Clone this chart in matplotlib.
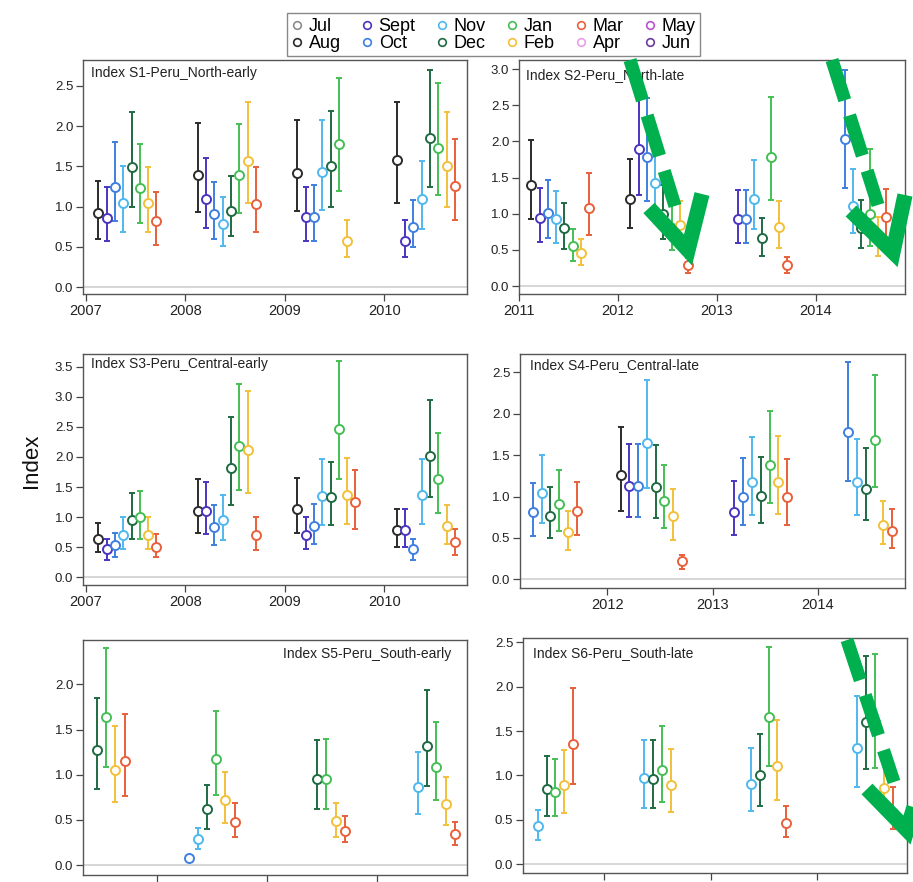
import numpy as np
import matplotlib
matplotlib.use("Agg")
import matplotlib.pyplot as plt
from matplotlib.lines import Line2D

plt.rcParams['font.family'] = ['Liberation Sans', 'DejaVu Sans']

# Month order of the legend (season runs Jul -> Jun) and colours.
MONTHS = ["Jul", "Aug", "Sept", "Oct", "Nov", "Dec", "Jan", "Feb", "Mar", "Apr", "May", "Jun"]
MONTH_COLORS = ["#8c8c8c", "#2b2b2b", "#4a35c0", "#3f7fe0", "#4fb8ee", "#1f6a42",
                "#45bf55", "#f2c03a", "#e8603c", "#e7a0e6", "#b94fd0", "#6b3a9e"]

# Only Aug..Mar carry estimates; rows = season start year, columns = Aug..Mar.
DATA_MONTHS = MONTHS[1:9]

# --- S1 Peru North early ---
S1_YEARS = [2007, 2008, 2009, 2010]
S1_MEAN = [[0.92, 0.86, 1.24, 1.04, 1.49, 1.23, 1.04, 0.82],
           [1.39, 1.10, 0.91, 0.79, 0.95, 1.39, 1.57, 1.03],
           [1.42, 0.87, 0.87, 1.43, 1.50, 1.78, 0.58, None],
           [1.58, 0.58, 0.75, 1.09, 1.85, 1.73, 1.50, 1.26]]
S1_LO = [[0.60, 0.57, 0.82, 0.69, 0.99, 0.80, 0.69, 0.53],
         [0.94, 0.73, 0.60, 0.51, 0.63, 0.92, 1.04, 0.68],
         [0.95, 0.57, 0.575, 0.96, 0.99, 1.19, 0.38, None],
         [1.05, 0.38, 0.50, 0.72, 1.24, 1.15, 0.99, 0.84]]
S1_HI = [[1.32, 1.24, 1.80, 1.51, 2.17, 1.78, 1.49, 1.18],
         [2.04, 1.60, 1.31, 1.12, 1.38, 2.03, 2.30, 1.49],
         [2.07, 1.25, 1.27, 2.07, 2.19, 2.60, 0.83, None],
         [2.30, 0.83, 1.08, 1.57, 2.70, 2.54, 2.18, 1.84]]

# --- S2 Peru North late ---
S2_YEARS = [2011, 2012, 2013, 2014]
S2_MEAN = [[1.40, 0.945, 1.01, 0.92, 0.80, 0.55, 0.45, 1.08],
           [1.21, 1.89, 1.79, 1.43, 1.00, 0.80, 0.85, 0.29],
           [None, 0.93, 0.92, 1.20, 0.66, 1.78, 0.81, 0.29],
           [None, None, 2.04, 1.11, 0.80, 1.00, 0.65, 0.95]]
S2_LO = [[0.92, 0.61, 0.66, 0.59, 0.51, 0.35, 0.29, 0.70],
         [0.80, 1.26, 1.18, 0.98, 0.65, 0.50, 0.55, 0.18],
         [None, 0.60, 0.60, 0.79, 0.415, 1.19, 0.53, 0.175],
         [None, None, 1.36, 0.73, 0.53, 0.55, 0.41, 0.62]]
S2_HI = [[2.02, 1.35, 1.46, 1.31, 1.15, 0.79, 0.645, 1.56],
         [1.76, 2.75, 2.60, 2.10, 1.40, 1.12, 1.17, 0.39],
         [None, 1.33, 1.33, 1.74, 0.945, 2.61, 1.175, 0.405],
         [None, None, 2.99, 1.62, 1.19, 1.89, 0.95, 1.34]]

# --- S3 Peru Central early ---
S3_YEARS = [2007, 2008, 2009, 2010]
S3_MEAN = [[0.63, 0.465, 0.53, 0.71, 0.96, 1.00, 0.71, 0.50],
           [1.11, 1.11, 0.84, 0.95, 1.82, 2.19, 2.11, 0.71],
           [1.135, 0.71, 0.86, 1.35, 1.33, 2.46, 1.37, 1.25],
           [0.79, 0.79, 0.47, 1.36, 2.015, 1.63, 0.85, 0.58]]
S3_LO = [[0.415, 0.29, 0.33, 0.47, 0.63, 0.64, 0.47, 0.33],
         [0.73, 0.725, 0.53, 0.615, 1.21, 1.45, 1.40, 0.45],
         [0.74, 0.465, 0.55, 0.875, 0.87, 1.63, 0.885, 0.81],
         [0.51, 0.51, 0.29, 0.89, 1.34, 1.07, 0.55, 0.37]]
S3_HI = [[0.91, 0.64, 0.74, 1.01, 1.40, 1.43, 1.00, 0.72],
         [1.63, 1.59, 1.21, 1.37, 2.66, 3.21, 3.10, 1.00],
         [1.65, 1.01, 1.22, 1.97, 1.92, 3.60, 1.99, 1.79],
         [1.13, 1.13, 0.64, 1.97, 2.94, 2.39, 1.21, 0.81]]

# --- S4 Peru Central late ---
S4_YEARS = [2011, 2012, 2013, 2014]
S4_MEAN = [[None, None, 0.81, 1.04, 0.77, 0.91, 0.57, 0.82],
           [1.26, 1.13, 1.13, 1.65, 1.12, 0.95, 0.76, 0.22],
           [None, 0.81, 1.00, 1.18, 1.01, 1.38, 1.18, 1.00],
           [None, None, 1.78, 1.18, 1.09, 1.68, 0.66, 0.585]]
S4_LO = [[None, None, 0.52, 0.68, 0.50, 0.58, 0.36, 0.535],
         [0.83, 0.75, 0.75, 1.10, 0.74, 0.62, 0.48, 0.13],
         [None, 0.535, 0.66, 0.78, 0.68, 0.92, 0.79, 0.65],
         [None, None, 1.19, 0.78, 0.72, 1.12, 0.43, 0.375]]
S4_HI = [[None, None, 1.16, 1.50, 1.115, 1.32, 0.83, 1.18],
         [1.835, 1.63, 1.63, 2.41, 1.62, 1.38, 1.095, 0.295],
         [None, 1.19, 1.46, 1.72, 1.48, 2.03, 1.735, 1.45],
         [None, None, 2.62, 1.70, 1.58, 2.47, 0.95, 0.845]]

# --- S5 Peru South early ---
S5_YEARS = [2007, 2008, 2009, 2010]
S5_MEAN = [[None, None, None, None, 1.27, 1.64, 1.055, 1.15],
           [None, None, 0.08, 0.29, 0.62, 1.17, 0.715, 0.48],
           [None, None, None, None, 0.95, 0.95, 0.49, 0.38],
           [None, None, None, 0.86, 1.32, 1.09, 0.675, 0.34]]
S5_LO = [[None, None, None, None, 0.84, 1.08, 0.70, 0.76],
         [None, None, 0.07, 0.18, 0.40, 0.775, 0.465, 0.31],
         [None, None, None, None, 0.62, 0.62, 0.31, 0.25],
         [None, None, None, 0.57, 0.88, 0.72, 0.44, 0.22]]
S5_HI = [[None, None, None, None, 1.85, 2.40, 1.54, 1.67],
         [None, None, 0.095, 0.405, 0.89, 1.71, 1.03, 0.69],
         [None, None, None, None, 1.38, 1.39, 0.69, 0.54],
         [None, None, None, 1.25, 1.94, 1.58, 0.98, 0.48]]

# --- S6 Peru South late ---
S6_YEARS = [2011, 2012, 2013, 2014]
S6_MEAN = [[None, None, None, 0.43, 0.85, 0.815, 0.89, 1.36],
           [None, None, None, 0.97, 0.96, 1.065, 0.895, None],
           [None, None, None, 0.905, 1.01, 1.665, 1.105, 0.46],
           [None, None, None, 1.31, 1.60, 1.60, 0.86, 0.58]]
S6_LO = [[None, None, None, 0.27, 0.545, 0.54, 0.58, 0.90],
         [None, None, None, 0.63, 0.63, 0.70, 0.59, None],
         [None, None, None, 0.595, 0.66, 1.11, 0.725, 0.305],
         [None, None, None, 0.865, 1.07, 1.08, 0.60, 0.395]]
S6_HI = [[None, None, None, 0.61, 1.22, 1.19, 1.29, 1.985],
         [None, None, None, 1.40, 1.40, 1.56, 1.30, None],
         [None, None, None, 1.315, 1.47, 2.45, 1.62, 0.66],
         [None, None, None, 1.90, 2.35, 2.37, 1.20, 0.865]]

PANELS = [
    # data, title, axes rect, xlim, ylim, yticks max, xticks, show xlabels, title placement
    (S1_YEARS, S1_MEAN, S1_LO, S1_HI, "Index S1-Peru_North-early",
     [0.0909, 0.6667, 0.4206, 0.2653], (2006.97, 2010.83), (-0.083, 2.82), 2.5,
     [2007, 2008, 2009, 2010], True, (0.02, 0.944, 'left')),
    (S2_YEARS, S2_MEAN, S2_LO, S2_HI, "Index S2-Peru_North-late",
     [0.5685, 0.6667, 0.4228, 0.2653], (2011.0, 2014.9), (-0.11, 3.126), 3.0,
     [2011, 2012, 2013, 2014], True, (0.018, 0.935, 'left')),
    (S3_YEARS, S3_MEAN, S3_LO, S3_HI, "Index S3-Peru_Central-early",
     [0.0909, 0.3367, 0.4206, 0.2619], (2006.97, 2010.83), (-0.128, 3.71), 3.5,
     [2007, 2008, 2009, 2010], True, (0.02, 0.955, 'left')),
    (S4_YEARS, S4_MEAN, S4_LO, S4_HI, "Index S4-Peru_Central-late",
     [0.5696, 0.3333, 0.4217, 0.2653], (2011.17, 2014.83), (-0.105, 2.72), 2.5,
     [2012, 2013, 2014], True, (0.025, 0.955, 'left')),
    (S5_YEARS, S5_MEAN, S5_LO, S5_HI, "Index S5-Peru_South-early",
     [0.0909, 0.0079, 0.4206, 0.2664], (2007.33, 2010.82), (-0.11, 2.49), 2.0,
     [2008, 2009, 2010], False, (0.96, 0.94, 'right')),
    (S6_YEARS, S6_MEAN, S6_LO, S6_HI, "Index S6-Peru_South-late",
     [0.5728, 0.0102, 0.4206, 0.2664], (2011.237, 2014.84), (-0.10, 2.55), 2.5,
     [2012, 2013, 2014], False, (0.026, 0.936, 'left')),
]

# Green overlay arrows (figure pixels): shaft start, shaft end, tip, left arm, right arm
ARROWS = [
    ((630, 60), (675, 206), (688, 250), (649, 208), (702, 194)),
    ((832, 60), (878, 205), (893, 252), (851, 211), (905, 195)),
    ((847, 640), (894, 782), (907, 830), (867, 789), (919, 791)),
]
GREEN = "#00b04f"
W, H = 913, 882

fig = plt.figure(figsize=(9.13, 8.82), dpi=100)

for (years, mean, lo, hi, title, rect, xlim, ylim, ymax, xticks, xlab, tpos) in PANELS:
    ax = fig.add_axes(rect)
    ax.axhline(0, color="#d0d0d0", lw=1.2, zorder=0)
    for j, month in enumerate(DATA_MONTHS):
        k = MONTHS.index(month)
        xs, ys, lows, highs = [], [], [], []
        for i, yr in enumerate(years):
            if mean[i][j] is None:
                continue
            xs.append(yr + (k + 0.5) / 12)
            ys.append(mean[i][j])
            lows.append(lo[i][j])
            highs.append(hi[i][j])
        if not xs:
            continue
        ys = np.array(ys)
        yerr = [ys - np.array(lows), np.array(highs) - ys]
        ax.errorbar(xs, ys, yerr=yerr, fmt='o', color=MONTH_COLORS[k],
                    mfc='white', mec=MONTH_COLORS[k], ms=6.5, mew=1.4,
                    elinewidth=1.4, capsize=2, capthick=1.1, zorder=3)
    ax.set_xlim(*xlim)
    ax.set_ylim(*ylim)
    ax.set_yticks(np.arange(0, ymax + 0.01, 0.5))
    ax.set_yticklabels([f"{v:.1f}" for v in np.arange(0, ymax + 0.01, 0.5)])
    ax.set_xticks(xticks)
    ax.set_xticklabels([str(t) for t in xticks] if xlab else [])
    for s in ax.spines.values():
        s.set_color("#555555")
        s.set_linewidth(1.0)
    ax.tick_params(axis='both', direction='out', length=5, width=0.9,
                   color="#444444", labelcolor="#222222", pad=2)
    ax.tick_params(axis='y', labelsize=9.5)
    ax.tick_params(axis='x', labelsize=10.5)
    ax.text(tpos[0], tpos[1], title, transform=ax.transAxes, ha=tpos[2],
            va='center', fontsize=10, color="#222222")

fig.text(0.034, 0.478, "Index", rotation=90, ha='center', va='center',
         fontsize=16, color="#111111")

handles = [Line2D([], [], ls='none', marker='o', mfc='white', mec=c, ms=5.5, mew=1.2)
           for c in MONTH_COLORS]
leg = fig.legend(handles, MONTHS, ncol=6, loc='upper center',
                 bbox_to_anchor=(0.5405, 0.995), fontsize=13, frameon=True,
                 fancybox=False, edgecolor="#888888", framealpha=1,
                 handlelength=0.6, handletextpad=0.35, columnspacing=1.15,
                 labelspacing=0.0, borderpad=0.25)
leg.get_frame().set_linewidth(1.0)

for start, end, tip, left, right in ARROWS:
    f = lambda p: (p[0] / W, 1 - p[1] / H)
    a, b = f(start), f(end)
    shaft = Line2D([a[0], b[0]], [a[1], b[1]], transform=fig.transFigure,
                   color=GREEN, lw=9.5, dash_capstyle='butt', zorder=10)
    shaft.set_dashes((3.2, 1.2))
    fig.add_artist(shaft)
    pts = [f(left), f(tip), f(right)]
    head = Line2D([p[0] for p in pts], [p[1] for p in pts], transform=fig.transFigure,
                  color=GREEN, lw=11, solid_joinstyle='miter',
                  solid_capstyle='butt', zorder=10)
    fig.add_artist(head)

fig.savefig("out.png", dpi=100)
